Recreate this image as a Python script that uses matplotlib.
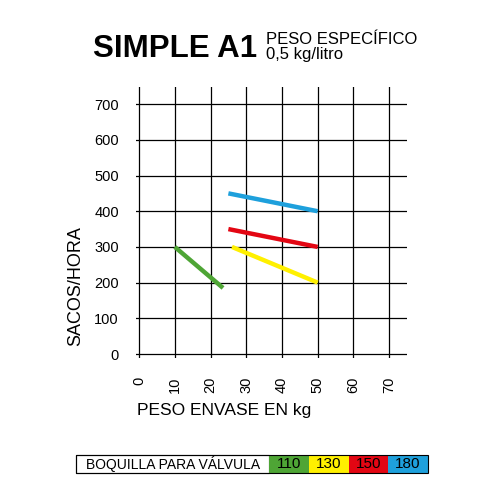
import matplotlib
matplotlib.use('Agg')
import matplotlib.pyplot as plt
from matplotlib.patches import Rectangle

# valve nozzle series: (x start, x end), (y start, y end)
NOZZLES = ['110', '130', '150', '180']
COLORS = ['#4ea535', '#fff000', '#e30613', '#1ea0dc']
X_START = [10, 26, 25, 25]
X_END = [23.5, 50, 50, 50]
Y_START = [300, 300, 350, 450]
Y_END = [185, 200, 300, 400]

X_TICKS = [0, 10, 20, 30, 40, 50, 60, 70]
Y_TICKS = [0, 100, 200, 300, 400, 500, 600, 700]

plt.rcParams['font.family'] = ['Liberation Sans', 'DejaVu Sans']

fig = plt.figure(figsize=(5, 5), dpi=100)
ax = fig.add_axes([0.271, 0.2834, 0.543, 0.5426])

for xs, xe, ys, ye, c in zip(X_START, X_END, Y_START, Y_END, COLORS):
    ax.plot([xs, xe], [ys, ye], color=c, lw=3.2, solid_capstyle='butt', zorder=3)

ax.set_xlim(-1, 75)
ax.set_ylim(-12, 748)
ax.set_xticks(X_TICKS)
ax.set_yticks(Y_TICKS)
ax.set_xticklabels([str(v) for v in X_TICKS], rotation=90, fontsize=10.5)
ax.set_yticklabels([str(v) for v in Y_TICKS], fontsize=10.5)
ax.tick_params(length=0)
ax.tick_params(axis='y', pad=12)
ax.tick_params(axis='x', pad=13)
ax.grid(True, color='black', lw=0.9)
ax.set_axisbelow(True)
for s in ax.spines.values():
    s.set_visible(False)

fig.text(0.151, 0.428, 'SACOS/HORA', rotation=90, ha='center', va='center', fontsize=13)
fig.text(0.448, 0.18, 'PESO ENVASE EN kg', ha='center', va='center', fontsize=12.5)

# title
fig.text(0.186, 0.886, 'SIMPLE A1', fontweight='bold', fontsize=22.5,
         ha='left', va='baseline')
fig.text(0.532, 0.912, 'PESO ESPECÍFICO', fontsize=12, ha='left', va='baseline')
fig.text(0.532, 0.881, '0,5 kg/litro', fontsize=12, ha='left', va='baseline')

# legend bar
x0, y0, h = 0.152, 0.054, 0.036
fig.patches.append(Rectangle((x0, y0), 0.386, h, transform=fig.transFigure,
                             facecolor='white', edgecolor='black', lw=0.8))
fig.text(x0 + 0.02, y0 + h / 2, 'BOQUILLA PARA VÁLVULA', fontsize=10, va='center')
cw = 0.0795
for i, (lab, c) in enumerate(zip(NOZZLES, COLORS)):
    cx = 0.538 + i * cw
    fig.patches.append(Rectangle((cx, y0), cw, h, transform=fig.transFigure,
                                 facecolor=c, edgecolor='none'))
    fig.text(cx + cw / 2, y0 + h / 2, lab, fontsize=11, ha='center', va='center')
fig.patches.append(Rectangle((x0, y0), 0.386 + 4 * cw, h, transform=fig.transFigure,
                             facecolor='none', edgecolor='black', lw=0.8))

fig.savefig('out.png', dpi=100)
